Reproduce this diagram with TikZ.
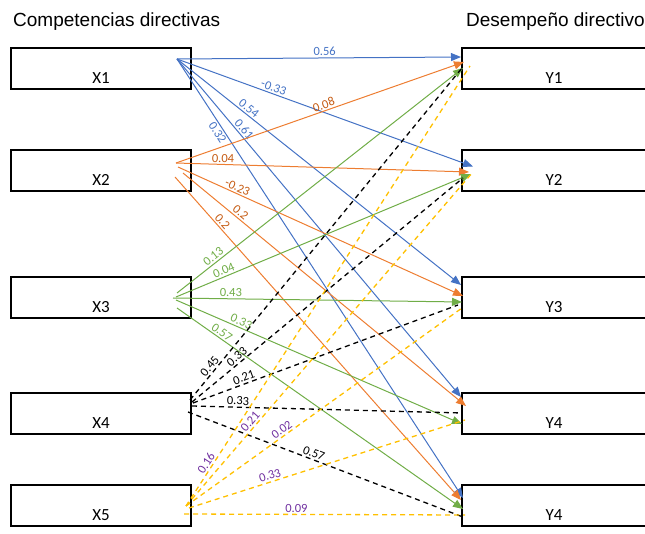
\documentclass[tikz,border=0pt]{standalone}
\usepackage{fontspec}
\setmainfont{Carlito}
\newfontfamily\titlefont{Liberation Sans}
\usetikzlibrary{positioning, arrows.meta, calc}

\definecolor{lblue}{HTML}{4472C4}
\definecolor{lorange}{HTML}{ED7D31}
\definecolor{dorange}{HTML}{C55A11}
\definecolor{lgreen}{HTML}{70AD47}
\definecolor{lyellow}{HTML}{FFC000}
\definecolor{lpurple}{HTML}{7030A0}

\begin{document}
\begin{tikzpicture}[
  x=1pt, y=-1pt,
  font=\fontsize{12.5}{14}\selectfont,
  box/.style={draw, line width=1.6pt, minimum width=180pt, minimum height=41pt,
    inner sep=0pt, outer sep=0pt, text height=30pt, text depth=0pt,
    font=\fontsize{17}{20}\selectfont},
  ybox/.style={box, minimum width=184pt},
  title/.style={anchor=base west, inner sep=0pt,
    font=\titlefont\fontsize{19}{22}\selectfont},
  arr/.style={-{Triangle[length=10pt, width=8pt]}, line width=1pt},
  dashline/.style={dash pattern=on 5pt off 4pt, line width=1.3pt},
  lbl/.style={sloped, above, inner sep=1.5pt},
]
  \useasboundingbox (0,0) rectangle (645,534);
  \clip (0,0) rectangle (645,534);

  \node[title] (tl) at (13,27) {Competencias directivas};
  \node[title] (tr) at (466,27) {Desempeño directivo};

  % left column
  \node[box, anchor=north west] (X1) at (11,48) {X1};
  \node[box, below=61pt of X1] (X2) {X2};
  \node[box, below=86pt of X2] (X3) {X3};
  \node[box, below=75pt of X3] (X4) {X4};
  \node[box, below=51pt of X4] (X5) {X5};

  % right column
  \node[ybox, right=271pt of X1] (Y1) {Y1};
  \node[ybox, right=271pt of X2] (Y2) {Y2};
  \node[ybox, right=271pt of X3] (Y3) {Y3};
  \node[ybox, right=271pt of X4] (Y4) {Y4};
  \node[ybox, right=271pt of X5] (Y5) {Y4};

  \coordinate (s1) at (177,59);
  \coordinate (s2) at (176,163);
  \coordinate (s3) at (175,298);
  \coordinate (s4) at (190,404);
  \coordinate (s5) at (186,506);

  % X1
  \foreach \tg/\tx/\ty/\v/\p/\side in {Y1/-1/-11.5/0.56/.52/above,
      Y2/11/-4/-0.33/.32/above, Y3/-1/-12.5/0.54/.24/above,
      Y4/-1/-16.5/0.61/.22/above, Y5/1/-7.5/0.32/.16/below}
    \draw[arr, lblue] (s1) -- ($(\tg.west)+(\tx,\ty)$)
      node[lbl, lblue, pos=\p, \side] {\v};

  % X2
  \foreach \tg/\sx/\sy/\tx/\ty/\v/\p in {Y1/0/0/2/-6.5/0.08/.52,
      Y2/0/0/7/1.5/0.04/.16, Y3/2/4/1/-1.5/-0.23/.2,
      Y4/7/10/4/-7.5/0.2/.19, Y5/-1/14/-1/-5.5/0.2/.15}
    \draw[arr, lorange] ($(s2)+(\sx,\sy)$) -- ($(\tg.west)+(\tx,\ty)$)
      node[lbl, dorange, pos=\p] {\v};

  % X3
  \foreach \tg/\sx/\sy/\tx/\ty/\v/\p in {Y1/2/-5/1/-0.5/0.13/.14,
      Y2/1/-1/9/3.5/0.04/.17, Y3/-2/0/0/4.5/0.43/.2,
      Y4/1/2/0/10.5/0.33/.22, Y5/2/10/1/3.5/0.57/.145}
    \draw[arr, lgreen] ($(s3)+(\sx,\sy)$) -- ($(\tg.west)+(\tx,\ty)$)
      node[lbl, lgreen, pos=\p] {\v};

  % X4
  \foreach \tg/\sx/\sy/\tx/\ty/\v/\p in {Y1/0/-4/0/-0.5/0.45/.09,
      Y2/2/-2/1/7.5/0.33/.18, Y3/3/-1/-4/7.5/0.21/.2,
      Y4/2/2/0/-0.5/0.33/.17, Y5/-2/8/1/11.5/0.57/.45}
    \draw[dashline, black] ($(s4)+(\sx,\sy)$) -- ($(\tg.west)+(\tx,\ty)$)
      node[lbl, black, pos=\p] {\v};

  % X5
  \foreach \tg/\sx/\sy/\tx/\ty/\v/\p in {Y1/0/0/8/-2.5/0.16/.09,
      Y2/0/0/11/1.5/0.21/.24, Y3/0/0/0/10.5/0.02/.36,
      Y4/3/2/3/6.5/0.33/.3, Y5/-2/8/3/9.5/0.09/.4}
    \draw[dashline, lyellow] ($(s5)+(\sx,\sy)$) -- ($(\tg.west)+(\tx,\ty)$)
      node[lbl, lpurple, pos=\p] {\v};
\end{tikzpicture}
\end{document}
